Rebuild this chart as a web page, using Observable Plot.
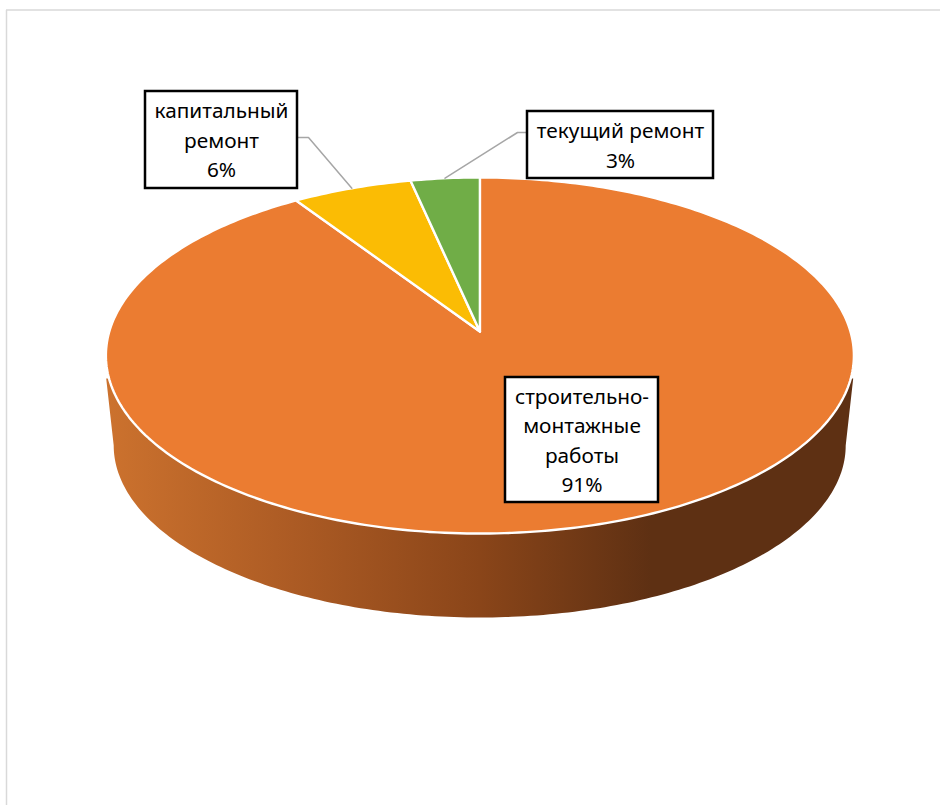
<!DOCTYPE html>
<html>
<head>
<meta charset="utf-8">
<style>html,body{margin:0;padding:0;background:#fff}svg{display:block}</style>
<script src="https://cdn.jsdelivr.net/npm/d3@7"></script>
<script src="https://cdn.jsdelivr.net/npm/@observablehq/plot@0.6"></script>
</head>
<body>
<div id="chart"></div>
<script>
// Data (shares; labels show them rounded)
const categories = ["строительно-\nмонтажные\nработы", "капитальный\nремонт", "текущий ремонт"];
const shares = [90.7, 5.9, 3.4];
const colors = ["#EB7C31", "#FBBC04", "#70AD47"];

// Page-layout constants
const W = 940, H = 805, FONT = 20.8;
const apex = {x: 479.4, y: 331}, sx = 370.6, sy = 174.8, k = 0.1348;
const floor = {x: 479.2, y: 445, rx: 366, ry: 172};
const wallTopY = 378, wallTopDx = 373.5;
const boxes = [
  {x1: 505, x2: 658, y1: 377, y2: 502},
  {x1: 145, x2: 297, y1: 91, y2: 188},
  {x1: 527, x2: 713, y1: 111, y2: 178}
];
const leaderElbows = [null, {x: 308, y: 137, endX: 297}, {x: 517, y: 132, endX: 527}];

// Perspective projection of a circle: angle (degrees clockwise from the far side) to picture
const project = (deg) => {
  const a = deg * Math.PI / 180, w = 1 + k * Math.cos(a);
  return {x: apex.x + sx * Math.sin(a) / w, y: apex.y - sy * Math.cos(a) / w};
};

// Slices are built from the shares
let acc = 0;
const slicePts = [];
const mids = [];
shares.forEach((s, i) => {
  const from = acc * 3.6, to = (acc + s) * 3.6;
  const name = categories[i];
  slicePts.push({name, ...apex});
  const n = Math.max(2, Math.ceil(to - from));
  for (let j = 0; j <= n; ++j) slicePts.push({name, ...project(from + (to - from) * j / n)});
  slicePts.push({name, ...apex});
  mids.push(project((from + to) / 2));
  acc += s;
});

// Side wall outline
const wall = [{x: floor.x - wallTopDx, y: wallTopY}];
for (let t = 180; t >= 0; --t) {
  const a = t * Math.PI / 180;
  wall.push({x: floor.x + floor.rx * Math.cos(a), y: floor.y + floor.ry * Math.sin(a)});
}
wall.push({x: floor.x + wallTopDx, y: wallTopY});

// Leader lines from slice mid-points to the boxes
const leaders = [];
leaderElbows.forEach((e, i) => {
  if (!e) return;
  leaders.push({i, x: e.endX, y: e.y}, {i, x: e.x, y: e.y}, {i, x: mids[i].x, y: mids[i].y});
});

// Label table
const labels = categories.map((c, i) => ({
  text: `${c}\n${Math.round(shares[i])}%`,
  ...boxes[i],
  cx: (boxes[i].x1 + boxes[i].x2) / 2,
  cy: (boxes[i].y1 + boxes[i].y2) / 2 - 1.5
}));

const defs = () => {
  const d = d3.create("svg:defs");
  const g = d.append("linearGradient").attr("id", "wallGrad");
  [[0, "#CC722E"], [0.25, "#AC5B24"], [0.5, "#8A4519"], [0.73, "#5E3013"], [1, "#5E3013"]]
    .forEach(([o, c]) => g.append("stop").attr("offset", o).attr("stop-color", c));
  return d.node();
};

const chart = Plot.plot({
  width: W, height: H, margin: 0,
  style: {background: "#fff", fontFamily: "'Noto Sans', sans-serif"},
  x: {domain: [0, W], range: [0, W], axis: null},
  y: {domain: [0, H], range: [0, H], axis: null},
  color: {domain: categories, range: colors},
  marks: [
    defs,
    Plot.ruleX([6], {y1: 10, y2: H, stroke: "#d9d9d9", strokeWidth: 1.5}),
    Plot.ruleY([9.5], {x1: 6, x2: W, stroke: "#d9d9d9", strokeWidth: 1.5}),
    Plot.line(wall, {x: "x", y: "y", fill: "url(#wallGrad)", stroke: "none"}),
    Plot.line(slicePts, {x: "x", y: "y", z: "name", fill: "name", stroke: "#fff", strokeWidth: 2.4, strokeLinejoin: "round"}),
    Plot.line(leaders, {x: "x", y: "y", z: "i", stroke: "#a6a6a6", strokeWidth: 1.5}),
    Plot.rect(labels, {x1: "x1", x2: "x2", y1: "y1", y2: "y2", fill: "#fff", stroke: "#000", strokeWidth: 2.5}),
    Plot.text(labels, {x: "cx", y: "cy", text: "text", fill: "#000", fontSize: FONT, lineHeight: 1.42, textAnchor: "middle", lineAnchor: "middle"})
  ]
});
document.getElementById("chart").appendChild(chart);
</script>
</body>
</html>
